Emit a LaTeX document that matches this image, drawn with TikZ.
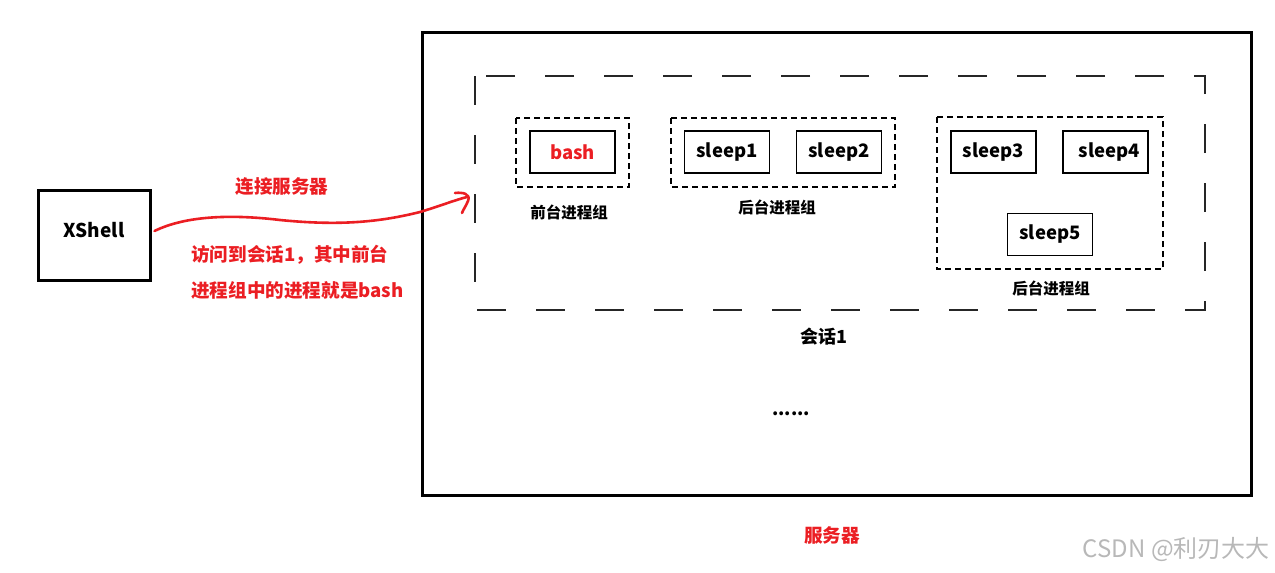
\documentclass[tikz,border=0pt]{standalone}
\usepackage{fontspec}
\setmainfont{Noto Sans CJK SC}
\usetikzlibrary{arrows.meta}
\definecolor{myred}{RGB}{235,30,35}
\begin{document}
\begin{tikzpicture}[x=1pt,y=-1pt,
  thickbox/.style={draw=black,line width=3pt},
  procbox/.style={draw=black,line width=1.3pt,minimum width=85pt,minimum height=42pt,inner sep=0pt,font=\fontsize{18.5}{20}\selectfont\bfseries},
  groupbox/.style={draw=black,line width=1.3pt,dash pattern=on 6pt off 4pt},
  lbl/.style={font=\fontsize{15.5}{18}\selectfont\bfseries,inner sep=0pt},
  redlbl/.style={text=myred,font=\fontsize{18.6}{22}\selectfont\bfseries,inner sep=0pt}]
\useasboundingbox (0,0) rectangle (1275,573);
% XShell
\node[thickbox,minimum width=112pt,minimum height=90pt,inner sep=0pt] (xs) at (94,235) {};
\node[font=\fontsize{19}{22}\selectfont\bfseries,inner sep=0pt] (xslbl) at (94,230) {XShell};
% server
\draw[line width=3pt] (422,32) rectangle (1251,495);
% session
\draw[line width=1.3pt,black!85,dash pattern=on 29pt off 30pt] (475,76) rectangle (1205,310);
% foreground group
\draw[groupbox] (516,118) rectangle (629,187);
\node[procbox,text=myred] (bash) at (572.5,152) {bash};
\node[lbl] (fg) at (569,212) {前台进程组};
% background group 1
\draw[groupbox] (671,118) rectangle (895,187);
\node[procbox] (s1) at (727,152) {sleep1};
\node[procbox] (s2) at (839,152) {sleep2};
\node[lbl] (bg1) at (777,207) {后台进程组};
% background group 2
\draw[groupbox] (937,117) rectangle (1163,269);
\node[procbox] (s3) at (993.5,152) {sleep3};
\node[procbox] (s4) at (1105.5,152) {\hspace{8pt}sleep4};
\node[procbox] (s5) at (1050,234.5) {sleep5};
\node[lbl] (bg2) at (1051,288) {后台进程组};
% session label and dots
\node[font=\fontsize{18}{20}\selectfont\bfseries,inner sep=0pt] (sess) at (824,337) {会话1};
\node[font=\fontsize{18}{20}\selectfont\bfseries,inner sep=0pt] (dots) at (791,414) {......};
% server label
\node[redlbl] (srv) at (832,535) {服务器};
% connection
\node[redlbl] (conn) at (282,187) {连接服务器};
\node[redlbl,anchor=west] (acc1) at (191,255) {访问到会话1，其中前台};
\node[redlbl,anchor=west] (acc2) at (191,290) {进程组中的进程就是bash};
\coordinate (tipA) at (455,193);
\coordinate (tipB) at (467,197);
\draw[myred,line width=2.6pt,line cap=round,line join=round]
  (xs.east) ++(3,-4) .. controls (185,216) and (230,214) .. (280,220)
  .. controls (340,226) and (380,222) .. (420,212)
  .. controls (440,206) and (455,200) .. (tipB);
\draw[myred,line width=2.6pt,line cap=round,line join=round]
  (tipA) .. controls (463,192) and (471,194) .. (468,201) .. controls (466,206) and (463,210) .. (462,213);
% watermark
\node[text=black!28,font=\fontsize{24}{26}\selectfont,inner sep=0pt,anchor=east] (wm) at (1270,550) {CSDN @利刃大大};
\end{tikzpicture}
\end{document}
